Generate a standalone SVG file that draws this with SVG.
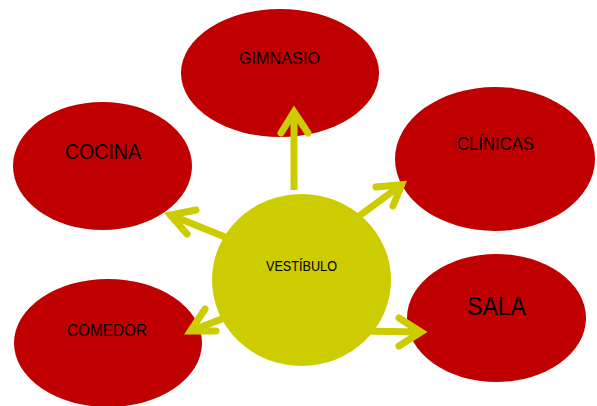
<svg xmlns="http://www.w3.org/2000/svg" width="597" height="406" viewBox="0 0 597 406">
<style>
.room{fill:#C00000}
.hub{fill:#CCCC00}
.lbl{font-family:"Liberation Sans",Arial,sans-serif;fill:#000;text-anchor:middle}
.shaft{stroke:#CCCC00;stroke-width:7;fill:none;stroke-linecap:butt}
.head{stroke:#CCCC00;stroke-width:7;fill:none;stroke-linecap:round;stroke-linejoin:miter;stroke-miterlimit:6}
</style>
<rect width="597" height="406" fill="#fff"/>
<g id="gimnasio"><ellipse class="room" cx="280" cy="73" rx="99" ry="64"/><text class="lbl" x="279.5" y="64" font-size="16.8" textLength="81" lengthAdjust="spacingAndGlyphs">GIMNASIO</text></g>
<g id="cocina"><ellipse class="room" cx="102.5" cy="166" rx="89.5" ry="64"/><text class="lbl" x="103" y="159" font-size="22" textLength="76" lengthAdjust="spacingAndGlyphs">COCINA</text></g>
<g id="clinicas"><ellipse class="room" cx="495" cy="159" rx="100" ry="72"/><text class="lbl" x="495.5" y="150" font-size="18.2" textLength="77" lengthAdjust="spacingAndGlyphs">CLÍNICAS</text></g>
<g id="comedor"><ellipse class="room" cx="108" cy="343" rx="94" ry="64"/><text class="lbl" x="107" y="336" font-size="16.8" textLength="80" lengthAdjust="spacingAndGlyphs">COMEDOR</text></g>
<g id="sala"><ellipse class="room" cx="496.5" cy="318" rx="89.5" ry="64"/><text class="lbl" x="496.5" y="315" font-size="25" textLength="59" lengthAdjust="spacingAndGlyphs">SALA</text></g>
<g id="connectors">
<line class="shaft" x1="294" y1="190" x2="294" y2="112"/>
<polyline class="head" points="281,133 294,112 308,133"/>
<line class="shaft" x1="340" y1="230" x2="401.6" y2="184.8"/>
<polyline class="head" points="376,187 401.6,184.8 393,206"/>
<line class="shaft" x1="245" y1="245" x2="170.4" y2="215"/>
<polyline class="head" points="196,210 170.4,215 187,234"/>
<line class="shaft" x1="240" y1="312" x2="190.5" y2="331"/>
<polyline class="head" points="205,309 190.5,331 216,331"/>
<line class="shaft" x1="360" y1="331" x2="421" y2="332"/>
<polyline class="head" points="399,318 421,332 399,346"/>
</g>
<g id="vestibulo"><ellipse class="hub" cx="301.5" cy="280" rx="89.5" ry="86"/><text class="lbl" x="301.5" y="271" font-size="14" textLength="71" lengthAdjust="spacingAndGlyphs">VESTÍBULO</text></g>
</svg>
